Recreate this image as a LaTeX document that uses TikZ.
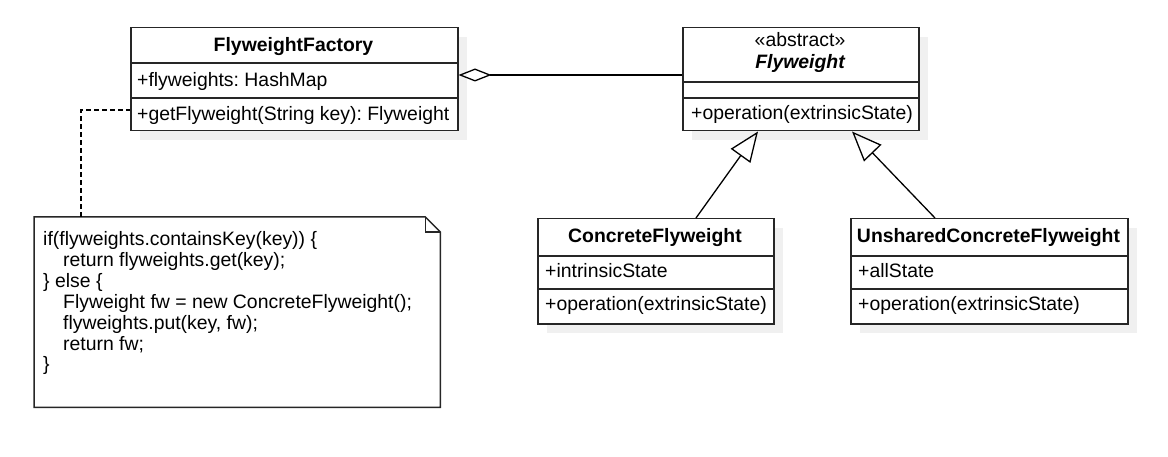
\documentclass[tikz,border=0pt]{standalone}
\usepackage{fontspec}
\setmainfont{Liberation Sans}
\usetikzlibrary{arrows.meta,calc}
\frenchspacing
\begin{document}
\begin{tikzpicture}[x=1pt,y=-1pt,
  every node/.style={inner sep=0pt,font=\fontsize{19.4}{20.8}\selectfont},
  boldtxt/.style={anchor=base,font=\fontsize{19.4}{20.8}\selectfont\bfseries},
  txt/.style={anchor=base west},
  ctxt/.style={anchor=base},
  box/.style={draw=black!85,line width=1.5pt,fill=white,anchor=north west},
  shadowfill/.style={fill=black!6,draw=none},
  sep/.style={draw=black!85,line width=1.3pt},
  conn/.style={draw=black,line width=1.3pt},
  aggr/.style={conn,{Diamond[open,length=33pt,width=13pt,line width=1.3pt]}-},
  gen/.style={conn,-{Triangle[open,length=30pt,width=24pt,line width=1.3pt]}},
  notelink/.style={draw=black,line width=1.3pt,dash pattern=on 4.5pt off 3.5pt}
]
\useasboundingbox (0,0) rectangle (1168,457);

% ---------- FlyweightFactory ----------
\fill[shadowfill] (140,37) rectangle (467,140);
\node[box,minimum width=327pt,minimum height=103pt] (factory) at (130,27) {};
\draw[sep] (130,63) -- (457,63);
\draw[sep] (130,98) -- (457,98);
\node[boldtxt] (factoryname) at (293.5,52) {FlyweightFactory};
\node[txt] (factoryattr) at (137,87) {+flyweights: HashMap};
\node[txt] (factoryop) at (137,121) {+getFlyweight(String key): Flyweight};

% ---------- Flyweight ----------
\fill[shadowfill] (692,37) rectangle (928,140);
\node[box,minimum width=236pt,minimum height=103pt] (flyweight) at (682,27) {};
\draw[sep] (682,82) -- (918,82);
\draw[sep] (682,98) -- (918,98);
\node[ctxt] (flyster) at (800,47) {«abstract»};
\node[ctxt,font=\fontsize{19.4}{20.8}\selectfont\bfseries\itshape] (flyname) at (800,69) {Flyweight};
\node[txt] (flyop) at (691,120) {+operation(extrinsicState)};

% ---------- ConcreteFlyweight ----------
\fill[shadowfill] (547,228) rectangle (783,333);
\node[box,minimum width=236pt,minimum height=105pt] (concrete) at (537,218) {};
\draw[sep] (537,256) -- (773,256);
\draw[sep] (537,289) -- (773,289);
\node[boldtxt] (concname) at (655,243) {ConcreteFlyweight};
\node[txt] (concattr) at (545,278) {+intrinsicState};
\node[txt] (concop) at (545,311) {+operation(extrinsicState)};

% ---------- UnsharedConcreteFlyweight ----------
\fill[shadowfill] (860,228) rectangle (1137,333);
\node[box,minimum width=277pt,minimum height=105pt] (unshared) at (850,218) {};
\draw[sep] (850,256) -- (1127,256);
\draw[sep] (850,289) -- (1127,289);
\node[boldtxt] (unsname) at (988.5,243) {UnsharedConcreteFlyweight};
\node[txt] (unsattr) at (858,278) {+allState};
\node[txt] (unsop) at (858,311) {+operation(extrinsicState)};

% ---------- Note ----------
\node[anchor=north west,minimum width=406pt,minimum height=190pt] (note) at (34,217) {};
\draw[draw=black!85,line width=1.5pt,fill=white]
  (note.north west) -- ($(note.north east)+(-15,0)$) -- ($(note.north east)+(0,15)$)
  -- (note.south east) -- (note.south west) -- cycle;
\draw[draw=black!85,line width=1.3pt]
  ($(note.north east)+(-15,0)$) -- ($(note.north east)+(-15,15)$) -- ($(note.north east)+(0,15)$);
\node[txt] (l1) at (43,246) {if(flyweights.containsKey(key)) \{};
\node[txt] (l2) at (63,266.8) {return flyweights.get(key);};
\node[txt] (l3) at (43,287.6) {\} else \{};
\node[txt] (l4) at (63,308.4) {Flyweight fw = new ConcreteFlyweight();};
\node[txt] (l5) at (63,329.2) {flyweights.put(key, fw);};
\node[txt] (l6) at (63,350) {return fw;};
\node[txt] (l7) at (43,370.8) {\}};

% ---------- Connectors ----------
\coordinate (aggy) at (0,75);
\draw[aggr] (factory.east |- aggy) -- (flyweight.west |- aggy);
\draw[gen] ($(concrete.north west)+(159,0)$) -- ($(flyweight.south west)+(76,0)$);
\draw[gen] ($(unshared.north west)+(85,0)$) -- ($(flyweight.south west)+(170,0)$);
\coordinate (linky) at (0,110);
\draw[notelink] ($(note.north west)+(47,0)$) |- (factory.west |- linky);
\end{tikzpicture}
\end{document}
